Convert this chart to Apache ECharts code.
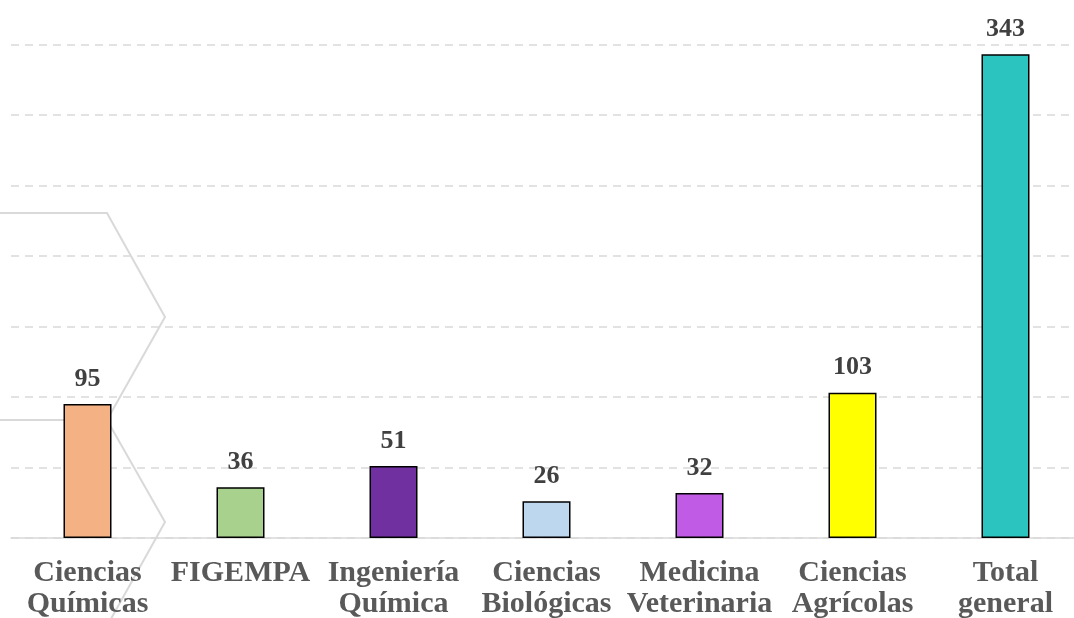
<!DOCTYPE html>
<html><head><meta charset="utf-8">
<script src="https://cdn.jsdelivr.net/npm/echarts@6/dist/echarts.min.js"></script>
<style>html,body{margin:0;padding:0;background:#fff}#c{width:1074px;height:618px}</style>
</head><body><div id="c"></div>
<script>
const categories = ["Ciencias\nQuímicas","FIGEMPA","Ingeniería\nQuímica","Ciencias\nBiológicas","Medicina\nVeterinaria","Ciencias\nAgrícolas","Total\ngeneral"];
const values = [95, 36, 51, 26, 32, 103, 343];
const barColors = ["#F4B183","#A9D18E","#7030A0","#BDD7EE","#C05BE5","#FFFF00","#2BC4BE"];
const yTicks = {min: 0, max: 350, interval: 50};

const chart = echarts.init(document.getElementById('c'), null, {renderer: 'canvas'});
const serif = '"Liberation Serif", "DejaVu Serif", serif';
chart.setOption({
  animation: false,
  backgroundColor: '#ffffff',
  grid: {left: 11, width: 1071, top: 44.5, height: 493.5, containLabel: false, outerBoundsMode: 'none'},
  graphic: [
    {type: 'polyline', z: -1, shape: {points: [[0,213],[107,213],[165,317],[107,420]]}, style: {fill: null, stroke: '#d9d9d9', lineWidth: 2}},
    {type: 'polyline', z: -1, shape: {points: [[0,420],[107,420],[165,522],[107,626]]}, style: {fill: null, stroke: '#d9d9d9', lineWidth: 2}}
  ],
  xAxis: {
    type: 'category',
    data: categories,
    axisLine: {show: true, lineStyle: {color: '#d9d9d9', width: 1.5}},
    axisTick: {show: false},
    axisLabel: {interval: 0, margin: 20, color: '#595959', fontFamily: serif, fontWeight: 'bold', fontSize: 30, lineHeight: 31}
  },
  yAxis: {
    type: 'value',
    min: yTicks.min, max: yTicks.max, interval: yTicks.interval,
    axisLabel: {show: false},
    axisLine: {show: false},
    axisTick: {show: false},
    splitLine: {show: true, lineStyle: {color: '#d9d9d9', width: 1.5, type: [8, 6]}}
  },
  series: [{
    type: 'bar',
    barWidth: 48,
    data: values.map((v, i) => ({value: v, itemStyle: {color: barColors[i]}})),
    itemStyle: {borderColor: '#000000', borderWidth: 1.5},
    label: {show: true, position: 'top', distance: 12, color: '#404040', fontFamily: serif, fontWeight: 'bold', fontSize: 26}
  }]
});
</script></body></html>
